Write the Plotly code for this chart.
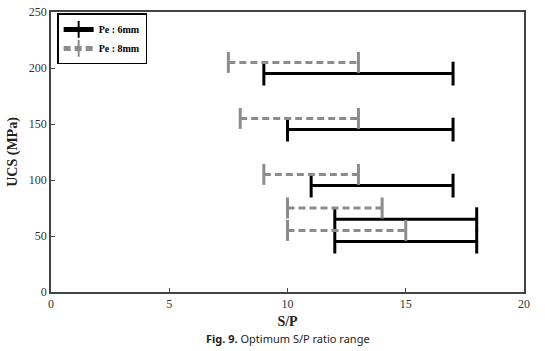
import plotly.graph_objects as go

# Pe : 6mm (black solid)
ucs_6mm = [195, 145, 95, 65, 45]
sp_min_6mm = [9, 10, 11, 12, 12]
sp_max_6mm = [17, 17, 17, 18, 18]

# Pe : 8mm (gray dashed)
ucs_8mm = [205, 155, 105, 75, 55]
sp_min_8mm = [7.5, 8, 9, 10, 10]
sp_max_8mm = [13, 13, 13, 14, 15]

x_ticks = [0, 5, 10, 15, 20]
y_ticks = [0, 50, 100, 150, 200, 250]


def build(ucs, lo, hi):
    xs, ys = [], []
    for u, a, b in zip(ucs, lo, hi):
        xs += [a, b, None]
        ys += [u, u, None]
    return xs, ys


serif = "Liberation Serif, Times New Roman, serif"
fig = go.Figure()

x8, y8 = build(ucs_8mm, sp_min_8mm, sp_max_8mm)
x6, y6 = build(ucs_6mm, sp_min_6mm, sp_max_6mm)

fig.add_trace(go.Scatter(
    x=x6, y=y6, mode="lines+markers", name="Pe : 6mm",
    line=dict(color="black", width=3),
    marker=dict(symbol="line-ns", size=17, color="black",
                line=dict(color="black", width=3)),
))
fig.add_trace(go.Scatter(
    x=x8, y=y8, mode="lines+markers", name="Pe : 8mm",
    line=dict(color="#8c8c8c", width=3, dash="7px,4px"),
    marker=dict(symbol="line-ns", size=15, color="#8c8c8c",
                line=dict(color="#8c8c8c", width=3)),
))

fig.update_layout(
    width=545, height=351,
    margin=dict(l=51, r=21, t=5, b=59),
    paper_bgcolor="white", plot_bgcolor="white",
    font=dict(family=serif, size=12, color="#333"),
    showlegend=True,
    legend=dict(
        x=0.013, y=0.995, xanchor="left", yanchor="top",
        bordercolor="black", borderwidth=1.5, bgcolor="white",
        font=dict(family=serif, size=10, color="black", weight="bold"),
        itemsizing="constant", itemwidth=30,
    ),
    xaxis=dict(
        range=[0, 20], tickvals=x_ticks, ticks="inside", ticklen=4,
        tickcolor="#444", showgrid=False, zeroline=False,
        showline=True, linecolor="#444", linewidth=1.5, mirror=True,
        title=dict(text="<b>S/P</b>", font=dict(family=serif, size=14, color="#222"),
                   standoff=6),
        tickfont=dict(family=serif, size=12, color="#333"),
    ),
    yaxis=dict(
        range=[0, 250], tickvals=y_ticks, ticks="inside", ticklen=4,
        tickcolor="#444", showgrid=False, zeroline=False,
        showline=True, linecolor="#444", linewidth=1.5, mirror=True,
        title=dict(text="<b>UCS (MPa)</b>", font=dict(family=serif, size=14, color="#222"),
                   standoff=8),
        tickfont=dict(family=serif, size=12, color="#333"),
    ),
    annotations=[dict(
        text="<b>Fig. 9.</b> Optimum S/P ratio range",
        xref="paper", yref="paper", x=0.5, y=-0.2,
        xanchor="center", yanchor="bottom", showarrow=False,
        font=dict(family="Noto Sans", size=11, color="#222"),
    )],
)

fig.write_html("out.html")
